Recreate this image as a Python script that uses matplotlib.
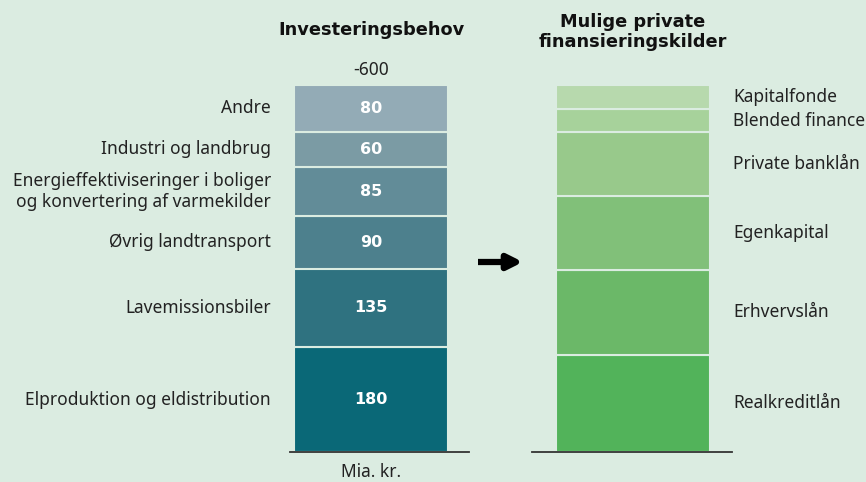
import matplotlib
matplotlib.use("Agg")
import matplotlib.pyplot as plt

# Investeringsbehov (top to bottom in the picture, drawn bottom up)
need_labels = ["Elproduktion og eldistribution", "Lavemissionsbiler", "Øvrig landtransport",
               "Energieffektiviseringer i boliger\nog konvertering af varmekilder",
               "Industri og landbrug", "Andre"]
need_values = [180, 135, 90, 85, 60, 80]
need_colors = ["#0a6877", "#2f7280", "#4d808d", "#628c98", "#7b9ba4", "#93abb6"]

# Mulige private finansieringskilder (estimated shares, no numbers shown)
src_labels = ["Realkreditlån", "Erhvervslån", "Egenkapital", "Private banklån",
              "Blended finance", "Kapitalfonde"]
src_values = [167, 145, 128, 110, 38, 42]
src_colors = ["#52b35a", "#6bb868", "#81c079", "#98c98b", "#a7d29b", "#b7d9ad"]

total_label = "-600"
unit_label = "Mia. kr."

bg = "#dbece1"
plt.rcParams["font.family"] = ["Noto Sans", "DejaVu Sans"]
bold_font = ["DejaVu Sans"]

W, H = 866, 482
fig = plt.figure(figsize=(W / 100, H / 100), dpi=100, facecolor=bg)
y0, y1 = 452, 85  # pixel rows for bottom and top of the stacks
ax = fig.add_axes([0, (H - y0) / H, 1, (y0 - y1) / H])
ax.set_facecolor(bg)
ax.set_xlim(0, W)
ax.set_ylim(0, sum(need_values))
ax.axis("off")

left_x, right_x, bw = 371, 633, 154

bottom = 0
for lab, v, c in zip(need_labels, need_values, need_colors):
    ax.bar(left_x, v, bottom=bottom, width=bw, color=c, edgecolor=bg, linewidth=1.5)
    ax.text(left_x, bottom + v / 2, str(v), color="white", fontsize=11.5, fontweight="bold",
            family=bold_font, ha="center", va="center")
    ax.text(left_x - bw / 2 - 23, bottom + v / 2, lab, color="#222222", fontsize=12.5,
            ha="right", va="center", linespacing=1.2)
    bottom += v

bottom = 0
for lab, v, c in zip(src_labels, src_values, src_colors):
    ax.bar(right_x, v, bottom=bottom, width=bw, color=c, edgecolor=bg, linewidth=1.5)
    ax.text(right_x + bw / 2 + 23, bottom + v / 2, lab, color="#222222", fontsize=12.5,
            ha="left", va="center")
    bottom += v

ax.plot([290, 469], [0, 0], color="#333333", lw=1.3, clip_on=False)
ax.plot([532, 732], [0, 0], color="#333333", lw=1.3, clip_on=False)

fig.text(left_x / W, 1 - 30 / H, "Investeringsbehov", fontsize=12.8, fontweight="bold",
         family=bold_font, ha="center", va="center", color="#111111")
fig.text(left_x / W, 1 - 70 / H, total_label, fontsize=12.5, ha="center", va="center",
         color="#222222")
fig.text(right_x / W, 1 - 32 / H, "Mulige private\nfinansieringskilder", fontsize=12.8,
         fontweight="bold", family=bold_font, ha="center", va="center", color="#111111",
         linespacing=1.15)
fig.text(left_x / W, 1 - 472 / H, unit_label, fontsize=12.5, ha="center", va="center",
         color="#222222")

ax.annotate("", xy=(523, H - 262), xytext=(478, H - 262), xycoords="figure pixels",
            textcoords="figure pixels",
            arrowprops=dict(arrowstyle="-|>", color="black", lw=4.5, mutation_scale=22,
                            shrinkA=0, shrinkB=0, capstyle="butt"))

fig.savefig("out.png", dpi=100, facecolor=bg)
